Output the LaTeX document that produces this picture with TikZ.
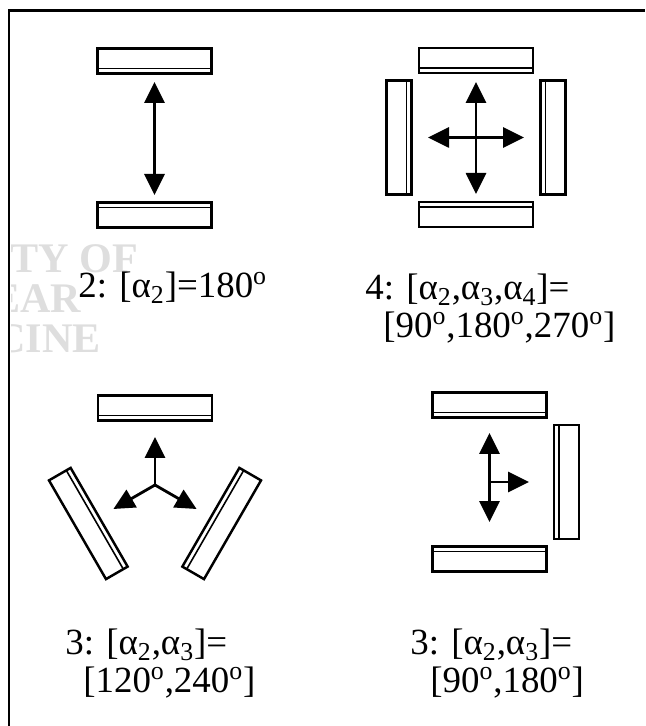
\documentclass[tikz,border=0pt]{standalone}
\usepackage{fontspec}
\setmainfont{Liberation Serif}
\usetikzlibrary{arrows.meta}
\tikzset{
    every picture/.style={x=0.02cm, y=0.02cm},
    plate/.style={draw=black, line width=1.4pt, fill=white},
    plateseam/.style={draw=black, line width=0.9pt},
    dirarrow/.style={-{Triangle[length=0.42cm,width=0.40cm]}, line width=1.6pt},
    caption/.style={anchor=base west, inner sep=0pt, font=\fontsize{21}{25}\selectfont},
    watermark/.style={anchor=base west, inner sep=0pt, text=black!13, font=\fontsize{24}{28}\selectfont\bfseries}
}
% detector plate: panel centre x, y and direction of the plate seen from it
\newcommand{\detplate}[3]{%
    \begin{scope}[shift={(#1,#2)}, rotate=#3]
        \draw[plate] (64.5,-57) rectangle (89.5,57);
        \draw[plateseam] (69.5,-57) -- (69.5,57);
    \end{scope}}
\newcommand{\dg}{\textsuperscript{o}}

\begin{document}
\begin{tikzpicture}
    \useasboundingbox (0,0) rectangle (645,726);
    % faint watermark, cut off at the frame
    \begin{scope}
        \clip (11,0) rectangle (645,715);
        \node[watermark] (wm1) at (10,453) {TY OF};
        \node[watermark] (wm2) at (-8,413) {EAR};
        \node[watermark] (wm3) at (-5,373) {CINE};
    \end{scope}
    % frame
    \draw[line width=0.06cm] (9,0) -- (9,715) -- (645,715);

    % 2 heads: 180
    \coordinate (c1) at (154.5,588);
    \detplate{154.5}{588}{90}
    \detplate{154.5}{588}{270}
    \coordinate (u1) at (154.5,644);
    \coordinate (d1) at (154.5,531);
    \draw[dirarrow] (c1) -- (u1);
    \draw[dirarrow] (c1) -- (d1);

    % 4 heads: 90, 180, 270
    \coordinate (c2) at (476,588.5);
    \foreach \a in {0,90,180,270} {\detplate{476}{588.5}{\a}}
    \coordinate (u2) at (476,644);
    \coordinate (d2) at (476,532);
    \coordinate (l2) at (428,588.5);
    \coordinate (r2) at (524,588.5);
    \draw[dirarrow] (c2) -- (u2);
    \draw[dirarrow] (c2) -- (d2);
    \draw[dirarrow] (c2) -- (l2);
    \draw[dirarrow] (c2) -- (r2);

    % 3 heads: 120, 240
    \coordinate (c3) at (155,241);
    \foreach \a in {90,210,330} {\detplate{155}{241}{\a}}
    \path (c3) ++(90:48) coordinate (u3);
    \path (c3) ++(210:48) coordinate (l3);
    \path (c3) ++(330:48) coordinate (r3);
    \draw[dirarrow] (c3) -- (u3);
    \draw[dirarrow] (c3) -- (l3);
    \draw[dirarrow] (c3) -- (r3);

    % 3 heads: 90, 180
    \coordinate (c4) at (489.5,244);
    \foreach \a in {0,90,270} {\detplate{489.5}{244}{\a}}
    \coordinate (u4) at (489.5,293);
    \coordinate (d4) at (489.5,204);
    \coordinate (r4) at (529,244);
    \draw[dirarrow] (c4) -- (u4);
    \draw[dirarrow] (c4) -- (d4);
    \draw[dirarrow] (c4) -- (r4);

    % captions
    \node[caption] (cap1) at (78,428) {2: [α\textsubscript{2}]=180\dg};
    \node[caption] (cap2) at (365,426) {4: [α\textsubscript{2},α\textsubscript{3},α\textsubscript{4}]=};
    \node[caption] (cap2b) at (383,388) {[90\dg,180\dg,270\dg]};
    \node[caption] (cap3) at (65,71) {3: [α\textsubscript{2},α\textsubscript{3}]=};
    \node[caption] (cap3b) at (83,33) {[120\dg,240\dg]};
    \node[caption] (cap4) at (410,71) {3: [α\textsubscript{2},α\textsubscript{3}]=};
    \node[caption] (cap4b) at (430,33) {[90\dg,180\dg]};
\end{tikzpicture}
\end{document}
